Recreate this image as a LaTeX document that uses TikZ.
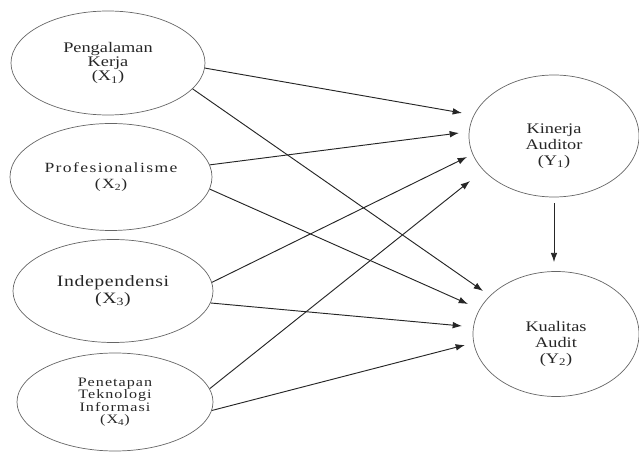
\documentclass[tikz,border=0pt]{standalone}
\usepackage{fontspec}
\setmainfont{Liberation Serif}
\newfontfamily\lblfont[FakeStretch=1.25]{Liberation Serif}
\usetikzlibrary{shapes.geometric,arrows.meta,calc}
\tikzset{
  latent/.style={
    shape = ellipse,
    draw = black!60,
    line width = 0.6pt,
    inner sep = 0pt,
    align = center,
    text = black!85
  },
  link/.style={
    draw = black!85,
    line width = 0.8pt,
    -{Latex[length=2.8mm,width=2mm]}
  },
  ylabel/.style={
    align = center,
    text = black!85,
    yshift = -8.5pt,
    font = \lblfont\fontsize{12.5}{13.7}\selectfont
  },
}
\begin{document}
\begin{tikzpicture}[x=0.03cm,y=-0.03cm]
  \useasboundingbox (0,0) rectangle (639,459);
  % exogenous variables
  \node[latent, minimum width=5.82cm, minimum height=3.12cm,
    font=\lblfont\fontsize{12.5}{12.3}\selectfont] (x1) at (108,63)
    {Pengalaman\\Kerja\\(X\textsubscript{1})};
  \node[latent, minimum width=6.06cm, minimum height=3.21cm,
    font=\lblfont\fontsize{12}{13.7}\selectfont\addfontfeature{LetterSpace=10}] (x2) at (111,177)
    {Profesionalisme\\(X\textsubscript{2})};
  \node[latent, minimum width=6cm, minimum height=3.09cm,
    font=\lblfont\fontsize{13.5}{14.5}\selectfont\addfontfeature{LetterSpace=4}] (x3) at (113,291)
    {Independensi\\(X\textsubscript{3})};
  \node[latent, minimum width=5.88cm, minimum height=2.94cm,
    font=\lblfont\fontsize{11}{10.7}\selectfont\addfontfeature{LetterSpace=8}] (x4) at (115,402)
    {Penetapan\\Teknologi\\Informasi\\(X\textsubscript{4})};
  % endogenous variables
  \node[latent, minimum width=5.1cm, minimum height=3.66cm,
    label={[ylabel]center:Kinerja\\Auditor\\(Y\textsubscript{1})}] (y1) at (554,136) {};
  \node[latent, minimum width=4.98cm, minimum height=3.75cm,
    label={[ylabel]center:Kualitas\\Audit\\(Y\textsubscript{2})}] (y2) at (556,334) {};
  % paths
  \foreach \src/\ang/\dx/\dy in {x1/-3/-92/-23, x2/7/-95/-3, x3/5/-87/21, x4/8/-84/45}
    \draw[link] (\src.\ang) -- ($(y1)+(\dx,\dy)$);
  \foreach \src/\ang/\dx/\dy in {x1/-17/-73/-43, x2/-7/-88/-30, x3/-7/-94/-8, x4/-5/-91/11}
    \draw[link] (\src.\ang) -- ($(y2)+(\dx,\dy)$);
  \draw[link] ([yshift=-5pt]y1.south) -- ([yshift=7.7pt]y1.south |- y2.north);
\end{tikzpicture}
\end{document}
